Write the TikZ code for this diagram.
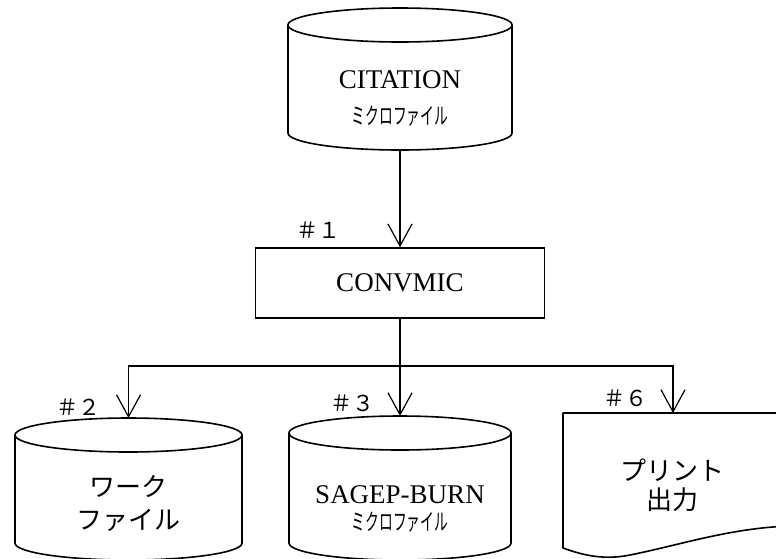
\documentclass[tikz,border=0pt]{standalone}
\usepackage{fontspec}
\usepackage{graphicx}
\setmainfont{Liberation Serif}
\newfontfamily\jfont{Noto Sans CJK JP}
\usetikzlibrary{arrows.meta}

% drum (disk file) outline with a named placeholder node
% #1 name, #2 centre x, #3 half width, #4 top rim y, #5 bottom rim y, #6 rim radius
\newcommand\drumshape[6]{%
  \node[hold, minimum width={2*#3}, minimum height={#5-#4+2*#6}] (#1) at (#2,{(#4+#5)/2}) {};
  \draw[outline] (#2,#4) ellipse [x radius=#3, y radius=#6];
  \draw[outline] ({#2-#3},#4) -- ({#2-#3},#5)
    arc[start angle=180, end angle=0, x radius=#3, y radius=#6] -- ({#2+#3},#4);
}

\begin{document}
\begin{tikzpicture}[x=1pt, y=-1pt,
  hold/.style={rectangle, draw=none, inner sep=0pt, outer sep=0pt},
  outline/.style={line width=1.6pt, line join=round},
  flow/.style={line width=1.2pt},
  arr/.style={flow, -{Straight Barb[length=22pt, width=24pt, line width=1.2pt]}},
  box/.style={rectangle, draw, line width=1.6pt, inner sep=0pt},
  lat/.style={font=\fontsize{27}{27}\selectfont, inner sep=0pt},
  kana/.style={font=\jfont\fontsize{23}{23}\selectfont, inner sep=0pt},
  jp/.style={font=\jfont\fontsize{26}{26}\selectfont, inner sep=0pt},
  tag/.style={font=\jfont\fontsize{22}{22}\selectfont, inner sep=0pt}]
\useasboundingbox (0,0) rectangle (776,558);
\clip (0,0) rectangle (776,558);

% source file
\drumshape{cit}{400}{112}{25}{133}{17}
\node[lat] (cit-a) at (400,80) {CITATION};
\node[kana] (cit-b) at (400,116) {\scalebox{0.6}[1]{ミクロファイル}};

% program
\node[box, minimum width=289pt, minimum height=70pt, font=\fontsize{27}{27}\selectfont]
  (conv) at (400,283) {CONVMIC};
\node[tag] (t1) at (318,230) {＃１};

% output files
\drumshape{work}{128.5}{113.5}{435}{543}{17}
\node[jp] (work-a) at (128,487) {ワーク};
\node[jp] (work-b) at (128,520) {ファイル};
\node[tag] (t2) at (78,407) {＃２};

\drumshape{sage}{400}{111}{433}{543}{17}
\node[lat] (sage-a) at (400,495) {SAGEP-BURN};
\node[kana] (sage-b) at (400,522) {\scalebox{0.6}[1]{ミクロファイル}};
\node[tag] (t3) at (352,403) {＃３};

% printed output (document symbol)
\node[hold, minimum width=220pt, minimum height=145pt] (print) at (673,485.5) {};
\draw[outline] (790,526) .. controls (730,528) and (680,545) .. (630,555)
  .. controls (605,560) and (585,556) .. (563,548) -- (563,413) -- (790,413);
\node[jp] (print-a) at (672,470) {プリント};
\node[jp] (print-b) at (672,500) {出力};
\node[tag] (t6) at (625,398) {＃６};

% connectors
\coordinate (split) at (400,366);
\draw[arr] (cit.south) -- (conv.north);
\draw[flow] (conv.south) -- (split);
\draw[arr] (split) -| (work.north);
\draw[arr] (split) -- (sage.north);
\draw[arr] (split) -| (print.north);
\end{tikzpicture}
\end{document}
